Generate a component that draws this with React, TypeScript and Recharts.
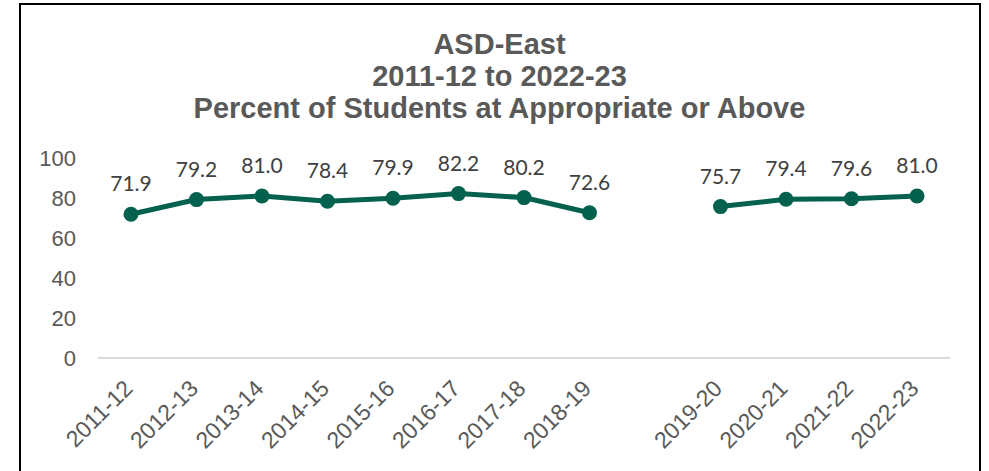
import React from 'react';
import { LineChart, Line, XAxis, YAxis, LabelList } from 'recharts';

// school years, with one empty slot between 2018-19 and 2019-20
const years = [
  '2011-12', '2012-13', '2013-14', '2014-15', '2015-16', '2016-17', '2017-18', '2018-19',
  '', '2019-20', '2020-21', '2021-22', '2022-23',
];
const percents = [71.9, 79.2, 81.0, 78.4, 79.9, 82.2, 80.2, 72.6, null, 75.7, 79.4, 79.6, 81.0];
const yTicks = [0, 20, 40, 60, 80, 100];
const titleLines = ['ASD-East', '2011-12 to 2022-23', 'Percent of Students at Appropriate or Above'];

const data = years.map((year, i) => ({ year, value: percents[i] }));

const green = '#03614D';
const gray = '#595959';

const YearTick = (props: any) => {
  const { x, y, payload } = props;
  if (!payload.value) return null;
  const tx = x + 3;
  const ty = y + 24;
  return (
    <text
      x={tx}
      y={ty}
      transform={`rotate(-45 ${tx} ${ty})`}
      textAnchor="end"
      fill={gray}
      fontSize={23}
      fontFamily="'Liberation Sans', Arial, sans-serif"
    >
      {payload.value}
    </text>
  );
};

export default function App() {
  return (
    <div
      style={{
        position: 'fixed',
        left: 0,
        top: 0,
        width: 989,
        height: 471,
        background: '#fff',
        overflow: 'hidden',
      }}
    >
      <div
        style={{
          position: 'absolute',
          left: 19,
          top: 3,
          width: 962,
          height: 490,
          border: '2px solid #000',
          boxSizing: 'border-box',
        }}
      />
      <div
        style={{
          position: 'absolute',
          left: 0,
          top: 28,
          width: 999,
          textAlign: 'center',
          fontFamily: "'Liberation Sans', Arial, sans-serif",
          fontWeight: 'bold',
          fontSize: 29,
          lineHeight: '32px',
          color: gray,
        }}
      >
        {titleLines.map((t) => (
          <div key={t}>{t}</div>
        ))}
      </div>
      <div style={{ position: 'absolute', left: 0, top: 0 }}>
        <LineChart width={989} height={471} data={data} margin={{ top: 158, right: 39, left: 20, bottom: 0 }}>
          <XAxis
            dataKey="year"
            height={113}
            padding={{ left: 33, right: 33 }}
            axisLine={{ stroke: '#D9D9D9', strokeWidth: 2 }}
            tickLine={false}
            interval={0}
            tick={<YearTick />}
          />
          <YAxis
            domain={[0, 100]}
            ticks={yTicks}
            width={78}
            axisLine={false}
            tickLine={false}
            tickSize={0}
            tickMargin={22}
            tick={{ fill: gray, fontSize: 22, fontFamily: "'Liberation Sans', Arial, sans-serif" }}
          />
          <Line
            type="linear"
            dataKey="value"
            stroke={green}
            strokeWidth={5}
            dot={{ r: 7.5, fill: green, stroke: green, strokeWidth: 0 }}
            isAnimationActive={false}
          >
            <LabelList
              dataKey="value"
              position="top"
              offset={23}
              fill="#404040"
              fontSize={21}
              fontFamily="Lato, 'Open Sans', sans-serif"
              formatter={(v: any) => (v == null ? '' : Number(v).toFixed(1))}
            />
          </Line>
        </LineChart>
      </div>
    </div>
  );
}
